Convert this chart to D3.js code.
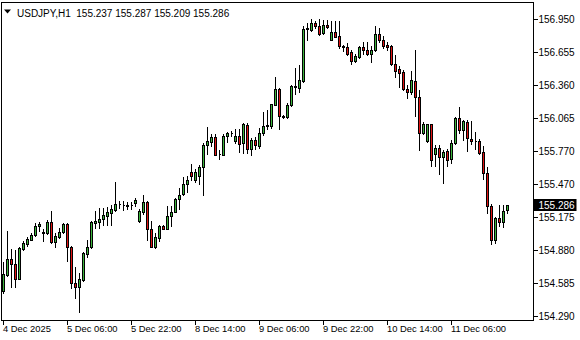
<!DOCTYPE html>
<html>
<head>
<meta charset="utf-8">
<script src="https://cdn.jsdelivr.net/npm/d3@7"></script>
<style>
    body { margin: 0; background: #fff; }
    svg text { font-family: "Liberation Sans", Arial, sans-serif; font-size: 10px; fill: #000; }
    svg text.time { font-size: 9.4px; }
</style>
</head>
<body>
<svg id="chart" width="580" height="340"></svg>
<script>
// USDJPY H1 bars, 4 Dec 14:00 .. 11 Dec 20:00
var symbol = "USDJPY";
var timeframe = "H1";

var opens = [
    154.514, 154.657, 154.800, 154.756, 154.621, 154.890, 154.935, 154.975, 155.015, 155.096,
    155.029, 155.033, 155.132, 154.953, 155.002, 155.042, 155.114, 154.912, 154.590, 154.554,
    154.612, 154.841, 154.904, 155.127, 155.136, 155.159, 155.190, 155.213, 155.239, 155.289,
    155.280, 155.280, 155.280, 155.298, 155.141, 155.217, 155.307, 155.069, 154.912, 154.993,
    155.096, 155.069, 155.186, 155.222, 155.342, 155.383, 155.468, 155.580, 155.508, 155.544,
    155.620, 155.822, 155.844, 155.889, 155.745, 155.736, 155.902, 155.925, 155.853, 155.902,
    155.835, 156.001, 155.790, 155.866, 155.813, 155.925, 155.992, 155.996, 156.184, 156.327,
    156.077, 156.068, 156.180, 156.345, 156.336, 156.395, 156.860, 156.852, 156.910, 156.887,
    156.829, 156.896, 156.762, 156.838, 156.798, 156.708, 156.695, 156.654, 156.578, 156.614,
    156.695, 156.672, 156.636, 156.668, 156.816, 156.762, 156.713, 156.708, 156.547, 156.498,
    156.475, 156.327, 156.292, 156.395, 156.247, 155.925, 155.853, 156.010, 155.745, 155.799,
    155.710, 155.772, 155.692, 155.835, 156.059, 155.956, 156.028, 155.876, 155.853, 155.857,
    155.755, 155.575, 155.271, 154.975, 155.165, 155.135, 155.237
];

var highs = [
    154.774, 155.051, 154.890, 154.881, 154.908, 154.962, 154.997, 155.033, 155.123, 155.132,
    155.069, 155.150, 155.230, 155.033, 155.078, 155.123, 155.123, 154.921, 154.729, 154.675,
    154.863, 154.971, 155.141, 155.226, 155.257, 155.253, 155.262, 155.284, 155.490, 155.316,
    155.316, 155.307, 155.307, 155.351, 155.244, 155.374, 155.316, 155.141, 155.029, 155.105,
    155.105, 155.271, 155.271, 155.351, 155.432, 155.539, 155.544, 155.651, 155.611, 155.642,
    155.835, 155.987, 155.920, 155.920, 155.777, 155.920, 155.942, 155.947, 155.969, 155.969,
    156.023, 156.019, 155.880, 155.889, 155.978, 156.113, 156.135, 156.193, 156.435, 156.336,
    156.090, 156.202, 156.359, 156.507, 156.538, 156.887, 156.910, 156.950, 156.932, 156.946,
    156.941, 156.941, 156.928, 156.932, 156.928, 156.717, 156.731, 156.672, 156.641, 156.708,
    156.748, 156.748, 156.708, 156.887, 156.865, 156.798, 156.744, 156.717, 156.627, 156.529,
    156.489, 156.359, 156.480, 156.672, 156.310, 156.028, 156.014, 156.014, 155.822, 155.822,
    155.777, 155.790, 155.866, 156.068, 156.162, 156.046, 156.046, 156.032, 155.942, 155.871,
    155.813, 155.627, 155.293, 155.180, 155.284, 155.284, 155.287
];

var lows = [
    154.496, 154.648, 154.550, 154.550, 154.617, 154.881, 154.917, 154.971, 155.006, 155.051,
    154.962, 155.024, 154.944, 154.908, 154.993, 155.033, 154.787, 154.541, 154.451, 154.330,
    154.603, 154.818, 154.895, 155.074, 155.078, 155.105, 155.105, 155.105, 155.226, 155.253,
    155.235, 155.248, 155.248, 155.271, 155.132, 155.204, 154.975, 154.904, 154.895, 154.966,
    155.065, 155.065, 155.092, 155.217, 155.248, 155.374, 155.405, 155.508, 155.486, 155.472,
    155.374, 155.745, 155.813, 155.732, 155.692, 155.732, 155.844, 155.898, 155.835, 155.763,
    155.750, 155.754, 155.736, 155.790, 155.799, 155.911, 155.969, 155.978, 156.180, 155.969,
    156.059, 156.059, 156.171, 156.274, 156.300, 156.386, 156.762, 156.847, 156.865, 156.807,
    156.820, 156.865, 156.758, 156.793, 156.686, 156.659, 156.627, 156.551, 156.569, 156.605,
    156.641, 156.627, 156.569, 156.659, 156.748, 156.686, 156.668, 156.538, 156.431, 156.345,
    156.310, 156.238, 156.278, 156.081, 155.781, 155.920, 155.844, 155.629, 155.629, 155.562,
    155.477, 155.629, 155.656, 155.831, 155.925, 155.866, 155.772, 155.831, 155.790, 155.745,
    155.513, 155.213, 154.939, 154.947, 155.096, 155.085, 155.209
];

var closes = [
    154.666, 154.800, 154.756, 154.621, 154.899, 154.944, 154.980, 155.015, 155.096, 155.114,
    155.038, 155.132, 154.953, 155.006, 155.042, 155.114, 154.912, 154.590, 154.554, 154.621,
    154.854, 154.908, 155.132, 155.141, 155.163, 155.195, 155.217, 155.248, 155.293, 155.293,
    155.284, 155.275, 155.284, 155.329, 155.226, 155.307, 155.069, 154.912, 155.002, 155.096,
    155.069, 155.190, 155.222, 155.342, 155.378, 155.472, 155.508, 155.544, 155.580, 155.620,
    155.822, 155.857, 155.889, 155.736, 155.741, 155.902, 155.925, 155.929, 155.902, 155.830,
    156.010, 155.790, 155.866, 155.822, 155.925, 155.996, 156.001, 156.189, 156.327, 156.077,
    156.072, 156.180, 156.350, 156.350, 156.404, 156.860, 156.865, 156.910, 156.883, 156.816,
    156.896, 156.874, 156.838, 156.793, 156.704, 156.695, 156.641, 156.578, 156.619, 156.695,
    156.668, 156.636, 156.672, 156.816, 156.762, 156.704, 156.695, 156.544, 156.487, 156.469,
    156.323, 156.292, 156.408, 156.247, 155.925, 156.014, 156.010, 155.687, 155.799, 155.710,
    155.763, 155.687, 155.835, 156.059, 155.952, 156.032, 155.880, 155.853, 155.857, 155.753,
    155.575, 155.271, 154.975, 155.165, 155.135, 155.231, 155.286
];

var priceTicks = [156.950, 156.655, 156.360, 156.065, 155.770, 155.470, 155.175, 154.880, 154.585, 154.290];

var timeLabels = ["4 Dec 2025", "5 Dec 06:00", "5 Dec 22:00", "8 Dec 14:00", "9 Dec 06:00", "9 Dec 22:00", "10 Dec 14:00", "11 Dec 06:00"];
var timeLabelBars = [0, 16, 32, 48, 64, 80, 96, 112];

// Static layout
var style = {
    frameLeft: 1.5,
    frameTop: 2.5,
    frameRight: 533.5,
    frameBottom: 320.5,
    barStep: 4,
    firstBarX: 3,
    bullColor: "#3cb43c",
    bearColor: "#e01414",
    lineColor: "#000"
};

var svg = d3.select("#chart");

var lastIndex = opens.length - 1;

var x = d3.scaleLinear()
    .domain([0, lastIndex])
    .range([style.firstBarX, style.firstBarX + style.barStep * lastIndex]);

var y = d3.scaleLinear()
    .domain([154.290, 156.950])
    .range([316, 19]);

// Background
svg.append("rect")
    .attr("width", 580)
    .attr("height", 340)
    .attr("fill", "#fff");

// Chart frame
svg.append("rect")
    .attr("x", style.frameLeft)
    .attr("y", style.frameTop)
    .attr("width", style.frameRight - style.frameLeft)
    .attr("height", style.frameBottom - style.frameTop)
    .attr("fill", "none")
    .attr("stroke", style.lineColor)
    .attr("shape-rendering", "crispEdges");

// Bars
var bars = opens.map(function(o, i) {
    return { i: i, o: o, h: highs[i], l: lows[i], c: closes[i] };
});

var candleLayer = svg.append("g")
    .attr("shape-rendering", "crispEdges");

candleLayer.selectAll("line.wick")
    .data(bars)
    .enter()
    .append("line")
    .attr("class", "wick")
    .attr("x1", function(d) { return Math.round(x(d.i)) + 0.5; })
    .attr("x2", function(d) { return Math.round(x(d.i)) + 0.5; })
    .attr("y1", function(d) { return Math.round(y(d.h)); })
    .attr("y2", function(d) { return Math.round(y(d.l)) + 1; })
    .attr("stroke", style.lineColor);

candleLayer.selectAll("path.body")
    .data(bars)
    .enter()
    .append("path")
    .attr("class", "body")
    .attr("d", function(d) {
        var cx = Math.round(x(d.i));
        var top = Math.round(y(Math.max(d.o, d.c)));
        var bot = Math.round(y(Math.min(d.o, d.c)));
        return "M" + (cx - 0.5) + "," + (top + 0.5) + "h2v" + (bot - top) + "h-2z";
    })
    .attr("fill", function(d) { return d.c >= d.o ? style.bullColor : style.bearColor; })
    .attr("stroke", style.lineColor);

// Price axis
var priceAxis = svg.append("g");

priceAxis.selectAll("line")
    .data(priceTicks)
    .enter()
    .append("line")
    .attr("x1", style.frameRight)
    .attr("x2", style.frameRight + 4)
    .attr("y1", function(d) { return Math.round(y(d)) + 0.5; })
    .attr("y2", function(d) { return Math.round(y(d)) + 0.5; })
    .attr("stroke", style.lineColor)
    .attr("shape-rendering", "crispEdges");

priceAxis.selectAll("text")
    .data(priceTicks)
    .enter()
    .append("text")
    .attr("x", style.frameRight + 5)
    .attr("y", function(d) { return Math.round(y(d)) + 4; })
    .text(function(d) { return d.toFixed(3); });

// Current price marker
var lastClose = closes[lastIndex];
var lastY = Math.round(y(lastClose));

svg.append("rect")
    .attr("x", style.frameRight)
    .attr("y", lastY - 6)
    .attr("width", 43)
    .attr("height", 12)
    .attr("fill", "#000");

svg.append("text")
    .attr("x", style.frameRight + 5)
    .attr("y", lastY + 4)
    .style("fill", "#fff")
    .text(lastClose.toFixed(3));

// Time axis
var timeAxis = svg.append("g");

timeAxis.selectAll("line")
    .data(timeLabelBars)
    .enter()
    .append("line")
    .attr("x1", function(d) { return Math.round(x(d)) + 0.5; })
    .attr("x2", function(d) { return Math.round(x(d)) + 0.5; })
    .attr("y1", style.frameBottom)
    .attr("y2", style.frameBottom + 4)
    .attr("stroke", style.lineColor)
    .attr("shape-rendering", "crispEdges");

timeAxis.selectAll("text")
    .data(timeLabelBars)
    .enter()
    .append("text")
    .attr("class", "time")
    .attr("x", function(d) { return Math.round(x(d)); })
    .attr("y", 332)
    .text(function(d, i) { return timeLabels[i]; });

// Header: symbol and last bar OHLC
svg.append("path")
    .attr("d", "M4,9.5h7l-3.5,4z")
    .attr("fill", "#000");

svg.append("text")
    .attr("x", 17)
    .attr("y", 16.5)
    .text(symbol + "," + timeframe + "  " +
        [opens[lastIndex], highs[lastIndex], lows[lastIndex], closes[lastIndex]]
            .map(function(v) { return v.toFixed(3); })
            .join(" "))
    .style("white-space", "pre");
</script>
</body>
</html>
